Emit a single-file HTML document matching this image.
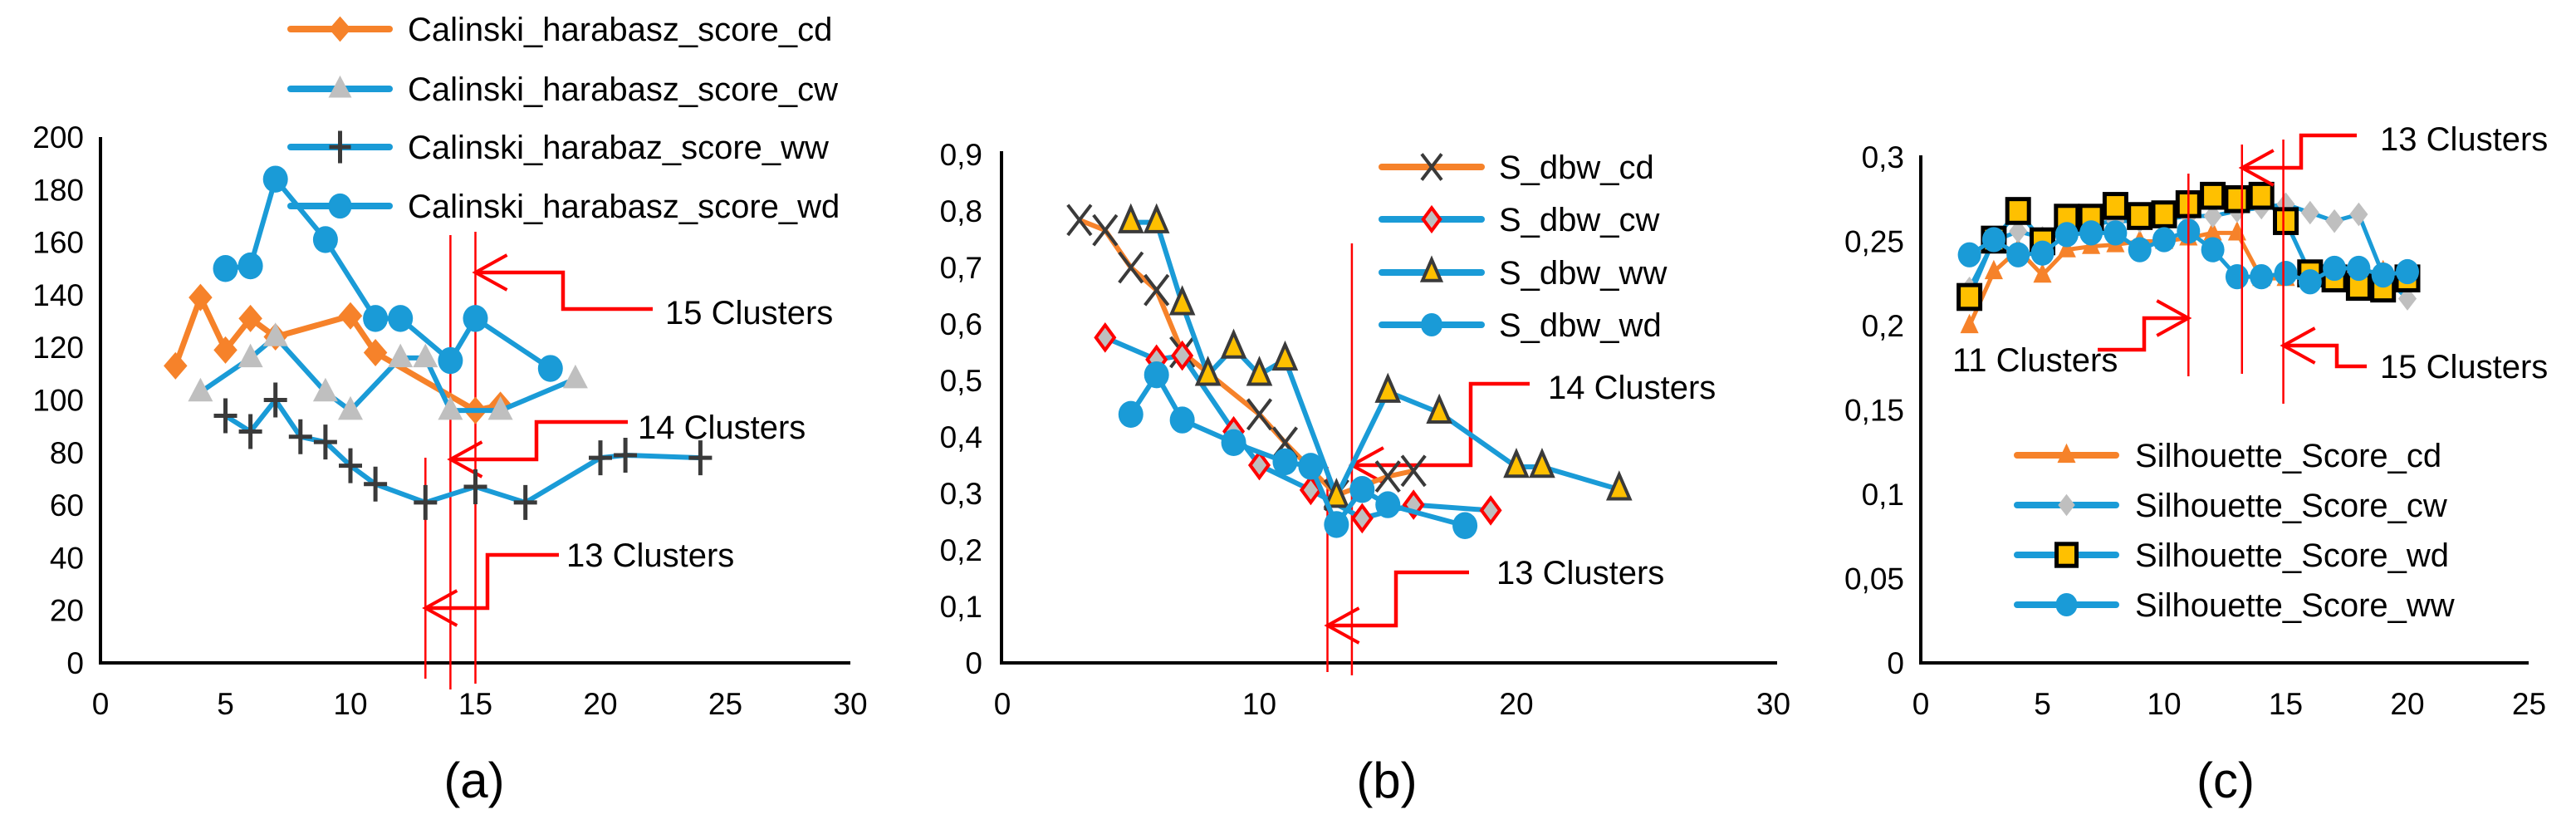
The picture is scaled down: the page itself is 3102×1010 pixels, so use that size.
<!DOCTYPE html>
<html><head><meta charset="utf-8"><style>
html,body{margin:0;padding:0;background:#fff;}
svg{display:block;font-family:"Liberation Sans",Arial,sans-serif;}
</style></head><body>
<svg id="fig" width="3102" height="1010" viewBox="0 0 3102 1010" xmlns="http://www.w3.org/2000/svg"></svg>
<script>
// ---------- Panel (a) Calinski-Harabasz data ----------
const aCdX = [3,4,5,6,7,10,11,15,16];
const aCdY = [113,139,119,131,124,132,118,96,98];
const aCwX = [4,6,7,9,10,12,13,14,16,19];
const aCwY = [103,116,124,103,96,116,116,96,96,108];
const aWwX = [5,6,7,8,9,10,11,13,15,17,20,21,24];
const aWwY = [94,88,100,86,84,75,68,61,67,61,78,79,78];
const aWdX = [5,6,7,9,11,12,14,15,18];
const aWdY = [150,151,184,161,131,131,115,131,112];
const aYTicks = ["0","20","40","60","80","100","120","140","160","180","200"];
const aXTicks = ["0","5","10","15","20","25","30"];
// ---------- Panel (b) S_dbw data ----------
const bCdX = [3,4,5,6,7,10,11,13,15,16];
const bCdY = [0.784,0.766,0.70,0.66,0.55,0.44,0.39,0.297,0.33,0.34];
const bCwX = [4,6,7,9,10,12,14,16,19];
const bCwY = [0.576,0.537,0.544,0.41,0.35,0.306,0.256,0.28,0.27];
const bWwX = [5,6,7,8,9,10,11,13,15,17,20,21,24];
const bWwY = [0.78,0.78,0.635,0.51,0.558,0.51,0.537,0.294,0.48,0.443,0.347,0.347,0.307];
const bWdX = [5,6,7,9,11,12,13,14,15,18];
const bWdY = [0.44,0.51,0.43,0.39,0.356,0.348,0.245,0.307,0.28,0.243];
const bYTicks = ["0","0,1","0,2","0,3","0,4","0,5","0,6","0,7","0,8","0,9"];
const bXTicks = ["0","10","20","30"];
// ---------- Panel (c) Silhouette data ----------
const cX = [2,3,4,5,6,7,8,9,10,11,12,13,14,15,16,17,18,19,20];
const cCdY = [0.20,0.232,0.245,0.23,0.245,0.247,0.248,0.25,0.25,0.252,0.255,0.255,0.228,0.228,0.232,0.23,0.228,0.232,0.23];
const cCwY = [0.222,0.25,0.256,0.252,0.26,0.26,0.262,0.262,0.263,0.265,0.265,0.268,0.27,0.272,0.267,0.262,0.266,0.23,0.216];
const cWdY = [0.217,0.251,0.268,0.250,0.264,0.264,0.271,0.265,0.266,0.272,0.277,0.275,0.277,0.262,0.231,0.228,0.223,0.222,0.228];
const cWwY = [0.242,0.251,0.242,0.243,0.254,0.255,0.255,0.245,0.251,0.256,0.245,0.229,0.229,0.231,0.226,0.234,0.234,0.23,0.232];
const cYTicks = ["0","0,05","0,1","0,15","0,2","0,25","0,3"];
const cXTicks = ["0","5","10","15","20","25"];

const NS = "http://www.w3.org/2000/svg";
const svg = document.getElementById("fig");
function mk(parent, tag, attrs, text){
  const e = document.createElementNS(NS, tag);
  for (const k in attrs) e.setAttribute(k, attrs[k]);
  if (text !== undefined) e.textContent = text;
  parent.appendChild(e);
  return e;
}
const ORANGE="#f6822a", BLUE="#1a9bd7", GRAY="#bfbfbf", GOLD="#ffc000", DARK="#3a3a3a", RED="#ff0000";

function axisFns(x0, kx, y0, ky){ return {sx: v => x0 + v*kx, sy: v => y0 - v*ky}; }

function marker(g, type, cx, cy, s){
  let e;
  if (type==="diamond"){
    e = mk(g,"polygon",{points:`${cx},${cy-s*1.1} ${cx+s*0.95},${cy} ${cx},${cy+s*1.1} ${cx-s*0.95},${cy}`,fill:ORANGE});
  } else if (type==="tri-gray"){
    e = mk(g,"polygon",{points:`${cx},${cy-s*1.15} ${cx+s},${cy+s*0.75} ${cx-s},${cy+s*0.75}`,fill:GRAY});
  } else if (type==="tri-orange"){
    e = mk(g,"polygon",{points:`${cx},${cy-s*1.1} ${cx+s*0.85},${cy+s*0.7} ${cx-s*0.85},${cy+s*0.7}`,fill:ORANGE});
  } else if (type==="tri-gold"){
    e = mk(g,"polygon",{points:`${cx},${cy-s*1.2} ${cx+s*0.85},${cy+s*0.75} ${cx-s*0.85},${cy+s*0.75}`,fill:GOLD,stroke:DARK,"stroke-width":4,"stroke-linejoin":"miter"});
  } else if (type==="plus"){
    e = mk(g,"path",{d:`M${cx-s} ${cy}H${cx+s}M${cx} ${cy-s*1.5}V${cy+s*1.5}`,stroke:DARK,"stroke-width":5,fill:"none"});
  } else if (type==="x"){
    e = mk(g,"path",{d:`M${cx-s} ${cy-s*1.3}L${cx+s} ${cy+s*1.3}M${cx+s} ${cy-s*1.3}L${cx-s} ${cy+s*1.3}`,stroke:DARK,"stroke-width":4,fill:"none"});
  } else if (type==="diamond-red"){
    e = mk(g,"polygon",{points:`${cx},${cy-s*1.15} ${cx+s*0.85},${cy} ${cx},${cy+s*1.15} ${cx-s*0.85},${cy}`,fill:GRAY,stroke:RED,"stroke-width":4});
  } else if (type==="diamond-gray"){
    e = mk(g,"polygon",{points:`${cx},${cy-s*1.1} ${cx+s*0.85},${cy} ${cx},${cy+s*1.1} ${cx-s*0.85},${cy}`,fill:GRAY});
  } else if (type==="square"){
    e = mk(g,"rect",{x:cx-s,y:cy-s*1.1,width:2*s,height:2.2*s,fill:GOLD,stroke:"#000","stroke-width":5});
  } else {
    e = mk(g,"ellipse",{cx:cx,cy:cy,rx:s,ry:s*1.08,fill:BLUE});
  }
  return e;
}

function series(panel, ax, name, xs, ys, lineColor, lw, mtype, ms){
  const g = mk(panel,"g",{});
  
  
  const pts = xs.map((x,i)=>ax.sx(x)+","+ax.sy(ys[i])).join(" ");
  const ln = mk(g,"polyline",{points:pts,fill:"none",stroke:lineColor,"stroke-width":lw,"stroke-linejoin":"round"});
  
  
  xs.forEach((x,i)=>{
    const m = marker(g, mtype, ax.sx(x), ax.sy(ys[i]), ms);
    
    
  });
}

function axes(panel, ax, x0, y0, yTop, xEnd, yTicks, yStep, xTicks, xStep, labelGap, fs){
  const ya = mk(panel,"line",{x1:x0,y1:yTop,x2:x0,y2:y0+2,stroke:"#000","stroke-width":4});
  
  
  const xa = mk(panel,"line",{x1:x0-2,y1:y0,x2:xEnd,y2:y0,stroke:"#000","stroke-width":4});
  
  
  yTicks.forEach((t,i)=>{
    const e = mk(panel,"text",{x:x0-labelGap,y:ax.sy(i*yStep)+13,"text-anchor":"end","font-size":fs,fill:"#000"},t);
    
    
  });
  xTicks.forEach((t,i)=>{
    const e = mk(panel,"text",{x:ax.sx(i*xStep),y:860,"text-anchor":"middle","font-size":fs,fill:"#000"},t);
    
    
  });
}

function legendEntry(panel, x1, x2, y, lineColor, mtype, ms, label, tx){
  const g = mk(panel,"g",{});
  
  
  mk(g,"line",{x1:x1,y1:y,x2:x2,y2:y,stroke:lineColor,"stroke-width":8,"stroke-linecap":"round"});
  marker(g, mtype, (x1+x2)/2, y, ms);
  mk(g,"text",{x:tx,y:y+14,"font-size":40,fill:"#000"},label);
}

function annotation(panel, lineX, lineTop, lineBot, tipY, dir, path, text, tx, ty){
  const g = mk(panel,"g",{});
  
  
  mk(g,"line",{x1:lineX,y1:lineTop,x2:lineX,y2:lineBot,stroke:RED,"stroke-width":2.5});
  mk(g,"polyline",{points:`${lineX+dir*38},${tipY-21} ${lineX},${tipY} ${lineX+dir*38},${tipY+21}`,fill:"none",stroke:RED,"stroke-width":4});
  mk(g,"polyline",{points:`${lineX},${tipY} ${path}`,fill:"none",stroke:RED,"stroke-width":4.5});
  mk(g,"text",{x:tx,y:ty+14,"font-size":40,fill:"#000"},text);
}

// ---------------- Panel (a) ----------------
const pa = mk(svg,"g",{});  
const A = axisFns(121, 30.1, 798, 3.165);
axes(pa, A, 121, 798, 165, 1024, aYTicks, 20, aXTicks, 5, 20, 37);
annotation(pa, A.sx(13), 551, 817, 732, 1, `587,732 587,668 673,668`, "13 Clusters", 682, 668);
annotation(pa, A.sx(14), 283, 830, 553, 1, `646,553 646,508 756,508`, "14 Clusters", 768, 514);
annotation(pa, A.sx(15), 279, 823, 328, 1, `678,328 678,372 786,372`, "15 Clusters", 801, 376);
series(pa, A, "ch-cd", aCdX, aCdY, ORANGE, 7, "diamond", 15);
series(pa, A, "ch-cw", aCwX, aCwY, BLUE, 6, "tri-gray", 15);
series(pa, A, "ch-ww", aWwX, aWwY, BLUE, 6, "plus", 14);
series(pa, A, "ch-wd", aWdX, aWdY, BLUE, 6, "circle", 15);
legendEntry(pa, 350, 469, 35, ORANGE, "diamond", 14, "Calinski_harabasz_score_cd", 491);
legendEntry(pa, 350, 469, 107, BLUE, "tri-gray", 14, "Calinski_harabasz_score_cw", 491);
legendEntry(pa, 350, 469, 177, BLUE, "plus", 13, "Calinski_harabaz_score_ww", 491);
legendEntry(pa, 350, 469, 248, BLUE, "circle", 14, "Calinski_harabasz_score_wd", 491);
const ta = mk(pa,"text",{x:571,y:960,"text-anchor":"middle","font-size":60,fill:"#000"},"(a)");
 

// ---------------- Panel (b) ----------------
const pb = mk(svg,"g",{});  
const B = axisFns(1207, 30.95, 798, 680);
axes(pb, B, 1206, 798, 182, 2140, bYTicks, 0.1, bXTicks, 10, 23, 37);
annotation(pb, B.sx(12.65), 562, 809, 753, 1, `1681,753 1681,689 1769,689`, "13 Clusters", 1802, 689);
annotation(pb, B.sx(13.6), 293, 813, 560, 1, `1771,560 1771,462 1842,462`, "14 Clusters", 1864, 466);
series(pb, B, "sdbw-cd", bCdX, bCdY, ORANGE, 6, "x", 14);
series(pb, B, "sdbw-cw", bCwX, bCwY, BLUE, 6, "diamond-red", 13);
series(pb, B, "sdbw-ww", bWwX, bWwY, BLUE, 6, "tri-gold", 15);
series(pb, B, "sdbw-wd", bWdX, bWdY, BLUE, 6, "circle", 15);
legendEntry(pb, 1664, 1784, 201, ORANGE, "x", 12, "S_dbw_cd", 1805);
legendEntry(pb, 1664, 1784, 264, BLUE, "diamond-red", 12, "S_dbw_cw", 1805);
legendEntry(pb, 1664, 1784, 328, BLUE, "tri-gold", 13, "S_dbw_ww", 1805);
legendEntry(pb, 1664, 1784, 391, BLUE, "circle", 13, "S_dbw_wd", 1805);
const tb = mk(pb,"text",{x:1670,y:960,"text-anchor":"middle","font-size":60,fill:"#000"},"(b)");
 

// ---------------- Panel (c) ----------------
const pc = mk(svg,"g",{});  
const C = axisFns(2313, 29.3, 798, 2030);
axes(pc, C, 2313, 798, 187, 3045, cYTicks, 0.05, cXTicks, 5, 20, 37);
series(pc, C, "sil-cd", cX, cCdY, ORANGE, 5, "tri-orange", 13);
series(pc, C, "sil-cw", cX, cCwY, BLUE, 5, "diamond-gray", 13);
series(pc, C, "sil-wd", cX, cWdY, BLUE, 5, "square", 13);
series(pc, C, "sil-ww", cX, cWwY, BLUE, 5, "circle", 14);
annotation(pc, C.sx(11), 209, 453, 383, -1, `2582,383 2582,421 2526,421`, "11 Clusters", 2351, 433);
annotation(pc, C.sx(13.2), 174, 450, 202, 1, `2771,202 2771,163 2838,163`, "13 Clusters", 2866, 167);
annotation(pc, C.sx(14.9), 168, 486, 416, 1, `2814,416 2814,441 2850,441`, "15 Clusters", 2866, 441);
legendEntry(pc, 2429, 2548, 548, ORANGE, "tri-orange", 13, "Silhouette_Score_cd", 2571);
legendEntry(pc, 2429, 2548, 608, BLUE, "diamond-gray", 12, "Silhouette_Score_cw", 2571);
legendEntry(pc, 2429, 2548, 668, BLUE, "square", 12, "Silhouette_Score_wd", 2571);
legendEntry(pc, 2429, 2548, 728, BLUE, "circle", 13, "Silhouette_Score_ww", 2571);
const tc = mk(pc,"text",{x:2680,y:960,"text-anchor":"middle","font-size":60,fill:"#000"},"(c)");
 
</script>
</body></html>
